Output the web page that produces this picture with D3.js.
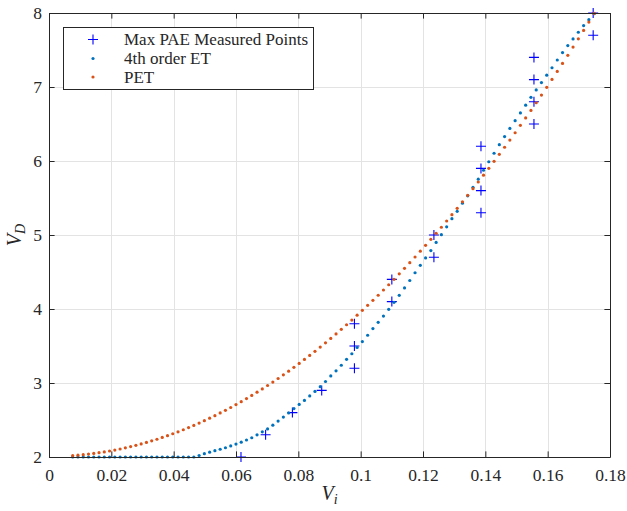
<!DOCTYPE html>
<html>
<head>
<meta charset="utf-8">
<script src="https://cdn.jsdelivr.net/npm/d3@7"></script>
<style>
  body { margin: 0; background: #fff; }
  text { font-family: "Liberation Serif", "Times New Roman", serif; fill: #262626; }
</style>
</head>
<body>
<svg id="chart"></svg>
<script>
// sampling grid of the two model curves (dots are evenly spaced in Vi)
var viGrid = [
  0.00760,0.00929,0.01098,0.01267,0.01436,0.01605,0.01774,0.01943,0.02112,0.02281,
  0.02450,0.02619,0.02788,0.02957,0.03126,0.03295,0.03464,0.03633,0.03802,0.03971,
  0.04140,0.04309,0.04478,0.04647,0.04816,0.04985,0.05154,0.05323,0.05492,0.05661,
  0.05830,0.05999,0.06168,0.06337,0.06506,0.06675,0.06844,0.07013,0.07182,0.07351,
  0.07520,0.07689,0.07858,0.08027,0.08196,0.08365,0.08534,0.08703,0.08872,0.09041,
  0.09210,0.09379,0.09548,0.09717,0.09886,0.10055,0.10224,0.10393,0.10562,0.10731,
  0.10900,0.11069,0.11238,0.11407,0.11576,0.11745,0.11914,0.12083,0.12252,0.12421,
  0.12590,0.12759,0.12928,0.13097,0.13266,0.13435,0.13604,0.13773,0.13942,0.14111,
  0.14280,0.14449,0.14618,0.14787,0.14956,0.15125,0.15294,0.15463,0.15632,0.15801,
  0.15970,0.16139,0.16308,0.16477,0.16646,0.16815,0.16984,0.17153,0.17322,0.17491
];

// 4th order ET
var etVd = [
  2,2,2,2,2,2,2,2,2,2,
  2,2,2,2,2,2,2,2,2,2,
  2,2,2,2,2.020,2.045,2.065,2.085,2.105,2.125,
  2.150,2.175,2.200,2.230,2.260,2.300,2.340,2.380,2.430,2.485,
  2.540,2.595,2.655,2.710,2.765,2.825,2.886,2.950,3.020,3.095,
  3.165,3.240,3.320,3.395,3.480,3.560,3.645,3.735,3.820,3.905,
  3.995,4.090,4.185,4.285,4.385,4.490,4.590,4.690,4.790,4.900,
  5.005,5.110,5.220,5.320,5.430,5.530,5.645,5.755,5.875,5.990,
  6.105,6.220,6.330,6.440,6.545,6.650,6.755,6.860,6.960,7.060,
  7.160,7.260,7.365,7.465,7.560,7.650,7.740,7.830,7.910,7.990
];

// PET
var petVd = [
  2.019,2.025,2.031,2.039,2.048,2.058,2.069,2.081,2.094,2.108,
  2.124,2.141,2.158,2.177,2.197,2.218,2.240,2.264,2.288,2.314,
  2.340,2.368,2.397,2.427,2.459,2.491,2.524,2.559,2.595,2.631,
  2.669,2.708,2.748,2.790,2.832,2.876,2.920,2.966,3.013,3.061,
  3.110,3.160,3.212,3.264,3.318,3.373,3.428,3.485,3.543,3.603,
  3.663,3.725,3.787,3.851,3.916,3.982,4.049,4.117,4.186,4.257,
  4.328,4.401,4.475,4.550,4.626,4.703,4.781,4.860,4.941,5.023,
  5.105,5.189,5.274,5.360,5.448,5.536,5.626,5.716,5.808,5.901,
  5.995,6.090,6.186,6.283,6.382,6.482,6.582,6.684,6.787,6.891,
  6.996,7.103,7.210,7.319,7.428,7.539,7.651,7.764,7.878,7.994
];

// Max PAE measured points
var measVi = [0.0616,0.0695,0.0781,0.0875,0.0980,0.0980,0.0980,0.1100,0.1100,0.1235,0.1235,
              0.1386,0.1386,0.1386,0.1386,0.1556,0.1556,0.1556,0.1556,0.1746,0.1746];
var measVd = [2.0,2.3,2.6,2.9,3.2,3.5,3.8,4.1,4.4,4.7,5.0,
              5.3,5.6,5.9,6.2,6.5,6.8,7.1,7.4,7.7,8.0];

var xTicks = [0,0.02,0.04,0.06,0.08,0.1,0.12,0.14,0.16,0.18];
var xTickLabels = ["0","0.02","0.04","0.06","0.08","0.1","0.12","0.14","0.16","0.18"];
var yTicks = [2,3,4,5,6,7,8];
var legendNames = ["Max PAE Measured Points","4th order ET","PET"];

var W = 627, H = 511;
var m = { left: 49, right: 610, top: 13, bottom: 457 };
var tickLen = 5.6;
var axisColor = "#262626";

var svg = d3.select("#chart").attr("width", W).attr("height", H);

var x = d3.scaleLinear().domain([0, 0.18]).range([m.left, m.right]);
var y = d3.scaleLinear().domain([2, 8]).range([m.bottom, m.top]);

// grid
var grid = svg.append("g").attr("stroke", "#e3e3e3").attr("stroke-width", 1);
grid.selectAll(".gx").data(xTicks.slice(1, -1)).enter().append("line")
  .attr("x1", d => Math.round(x(d)) + 0.5).attr("x2", d => Math.round(x(d)) + 0.5)
  .attr("y1", m.top).attr("y2", m.bottom);
grid.selectAll(".gy").data(yTicks.slice(1, -1)).enter().append("line")
  .attr("y1", d => Math.round(y(d)) + 0.5).attr("y2", d => Math.round(y(d)) + 0.5)
  .attr("x1", m.left).attr("x2", m.right);

// clip for the marks
svg.append("clipPath").attr("id", "plotClip").append("rect")
  .attr("x", m.left - 6).attr("y", m.top - 6)
  .attr("width", m.right - m.left + 12).attr("height", m.bottom - m.top + 12);

var marks = svg.append("g").attr("clip-path", "url(#plotClip)");

var plusPath = "M-5,0H5M0,-5V5";

// measured points
marks.selectAll(".meas").data(measVi).enter().append("path")
  .attr("d", plusPath)
  .attr("transform", (d, i) => `translate(${x(d)},${y(measVd[i])})`)
  .attr("stroke", "#0000ff").attr("stroke-width", 1.1).attr("fill", "none");

// 4th order ET
marks.selectAll(".et").data(viGrid).enter().append("circle")
  .attr("cx", d => x(d)).attr("cy", (d, i) => y(etVd[i]))
  .attr("r", 1.6).attr("fill", "#0072bd");

// PET
marks.selectAll(".pet").data(viGrid).enter().append("circle")
  .attr("cx", d => x(d)).attr("cy", (d, i) => y(petVd[i]))
  .attr("r", 1.6).attr("fill", "#d95319");

// axes, ticks pointing inward
function styleAxis(g) {
  g.select(".domain").attr("stroke", axisColor).attr("stroke-width", 1);
  g.selectAll(".tick line").attr("stroke", axisColor).attr("stroke-width", 1);
  g.selectAll(".tick text").attr("fill", axisColor).style("font-size", "17.5px");
}

svg.append("g").attr("transform", `translate(0,${m.bottom})`)
  .call(d3.axisBottom(x).tickValues(xTicks).tickFormat((d, i) => xTickLabels[i])
    .tickSizeInner(-tickLen).tickSizeOuter(0).tickPadding(12))
  .call(styleAxis);

svg.append("g").attr("transform", `translate(0,${m.top})`)
  .call(d3.axisTop(x).tickValues(xTicks).tickFormat("")
    .tickSizeInner(-tickLen).tickSizeOuter(0))
  .call(styleAxis);

svg.append("g").attr("transform", `translate(${m.left},0)`)
  .call(d3.axisLeft(y).tickValues(yTicks).tickFormat(d3.format("d"))
    .tickSizeInner(-tickLen).tickSizeOuter(0).tickPadding(7))
  .call(styleAxis);

svg.append("g").attr("transform", `translate(${m.right},0)`)
  .call(d3.axisRight(y).tickValues(yTicks).tickFormat("")
    .tickSizeInner(-tickLen).tickSizeOuter(0))
  .call(styleAxis);

// axis labels
var xl = svg.append("text").attr("x", (m.left + m.right) / 2).attr("y", 500)
  .attr("text-anchor", "middle").style("font-size", "20px");
xl.append("tspan").attr("font-style", "italic").text("V");
xl.append("tspan").attr("font-style", "italic").attr("dy", 4).style("font-size", "14px").text("i");

var yl = svg.append("text").attr("transform", `translate(21,${(m.top + m.bottom) / 2}) rotate(-90)`)
  .attr("text-anchor", "middle").style("font-size", "20px");
yl.append("tspan").attr("font-style", "italic").text("V");
yl.append("tspan").attr("font-style", "italic").attr("dy", 4).style("font-size", "14px").text("D");

// legend
var lg = svg.append("g");
lg.append("rect").attr("x", 63.5).attr("y", 27.5).attr("width", 250).attr("height", 62)
  .attr("fill", "#fff").attr("stroke", axisColor).attr("stroke-width", 1);
var rowY = [39.5, 58.5, 77];
lg.append("path").attr("d", plusPath).attr("transform", `translate(93,${rowY[0]})`)
  .attr("stroke", "#0000ff").attr("stroke-width", 1.1);
lg.append("circle").attr("cx", 93).attr("cy", rowY[1]).attr("r", 1.6).attr("fill", "#0072bd");
lg.append("circle").attr("cx", 93).attr("cy", rowY[2]).attr("r", 1.6).attr("fill", "#d95319");
lg.selectAll(".lt").data(legendNames).enter().append("text")
  .attr("x", 124).attr("y", (d, i) => rowY[i]).attr("dy", "0.35em")
  .style("font-size", "17px").text(d => d);
</script>
</body>
</html>
